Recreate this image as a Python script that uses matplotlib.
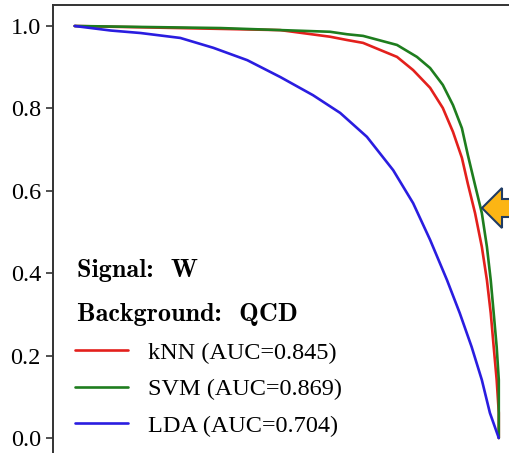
import matplotlib
matplotlib.use("Agg")
import matplotlib.pyplot as plt
from matplotlib.patches import Polygon

plt.rcParams['font.family'] = ['Liberation Serif', 'DejaVu Serif']

# signal efficiency vs background rejection
knn_x = [0.0, 0.344, 0.485, 0.602, 0.642, 0.680, 0.72, 0.760, 0.798, 0.838, 0.868, 0.892,
         0.913, 0.927, 0.944, 0.96, 0.972, 0.981, 0.988, 0.995, 1.0, 1.0]
knn_y = [1.0, 0.993, 0.990, 0.974, 0.966, 0.959, 0.942, 0.925, 0.893, 0.850, 0.801, 0.743,
         0.680, 0.617, 0.546, 0.464, 0.383, 0.303, 0.221, 0.141, 0.061, 0.0]

svm_x = [0.0, 0.344, 0.602, 0.642, 0.680, 0.760, 0.807, 0.838, 0.868, 0.892, 0.913, 0.927,
         0.944, 0.96, 0.972, 0.981, 0.988, 0.995, 1.0, 1.0]
svm_y = [1.0, 0.995, 0.986, 0.980, 0.976, 0.954, 0.925, 0.898, 0.857, 0.808, 0.752, 0.687,
         0.614, 0.546, 0.464, 0.383, 0.303, 0.221, 0.141, 0.0]

lda_x = [0.0, 0.085, 0.155, 0.249, 0.327, 0.407, 0.485, 0.562, 0.626, 0.689, 0.751, 0.798,
         0.838, 0.878, 0.908, 0.936, 0.96, 0.979, 1.0]
lda_y = [1.0, 0.989, 0.983, 0.971, 0.947, 0.917, 0.876, 0.832, 0.789, 0.731, 0.650, 0.570,
         0.481, 0.383, 0.303, 0.221, 0.141, 0.061, 0.0]

labels = ['kNN (AUC=0.845)', 'SVM (AUC=0.869)', 'LDA (AUC=0.704)']
colors = ['#e3201c', '#1e7d1e', '#2a1de0']
yticks = [0.0, 0.2, 0.4, 0.6, 0.8, 1.0]

W, H = 510, 453
fig = plt.figure(figsize=(W / 100, H / 100), dpi=100)
ax = fig.add_axes([53.5 / W, (H - 458.6) / H, 466.5 / W, 453.2 / H])

lines = []
for xs, ys, c in zip([knn_x, svm_x, lda_x], [knn_y, svm_y, lda_y], colors):
    l, = ax.plot(xs, ys, color=c, lw=1.9, solid_capstyle='round', solid_joinstyle='round')
    lines.append(l)

ax.set_xlim(-0.05, 1.05)
ax.set_ylim(-0.05, 1.05)
ax.set_yticks(yticks)
ax.set_yticklabels([f'{v:.1f}' for v in yticks])
ax.tick_params(axis='y', labelsize=17.5, length=5, width=1.2, color='#333333', pad=4)
ax.set_xticks([])
for s in ax.spines.values():
    s.set_color('#333333')
    s.set_linewidth(1.4)

ax.legend(lines, labels, loc='lower left', bbox_to_anchor=(0.046, 0.048),
          frameon=False, fontsize=17.5, borderpad=0, borderaxespad=0,
          handlelength=2.2, handletextpad=0.8, labelspacing=0.6)

bold_cm = ['cmb10', 'DejaVu Serif']
fig.text(77 / W, 1 - 270 / H, 'Signal:  W', fontsize=18.8, family=bold_cm,
         ha='left', va='center')
fig.text(77 / W, 1 - 315 / H, 'Background:  QCD', fontsize=18.8, family=bold_cm,
         ha='left', va='center')

# callout arrow on the right edge
arrow = [(482, 208), (502, 188), (502, 199), (512, 199), (512, 217), (502, 217), (502, 228)]
arrow = [(x / W, 1 - y / H) for x, y in arrow]
fig.patches.append(Polygon(arrow, closed=True, transform=fig.transFigure,
                           facecolor='#fcb514', edgecolor='#1f3b63', lw=1.5))

fig.savefig('out.png', dpi=100)
